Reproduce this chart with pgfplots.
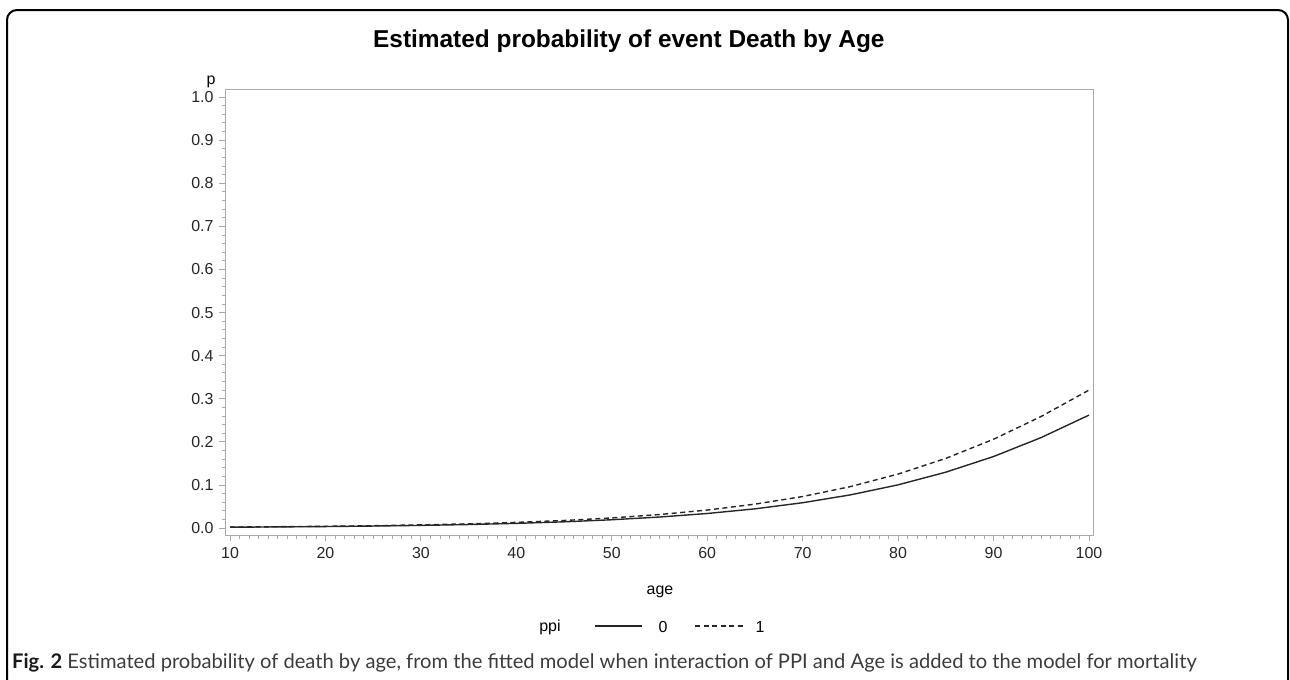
\documentclass[border=0pt]{standalone}
\usepackage{fontspec}
\setmainfont{Liberation Sans}
\newfontfamily\capfont{Lato}
\usepackage{pgfplots}
\pgfplotsset{compat=1.18}

\definecolor{axgray}{RGB}{170,170,170}
\definecolor{captext}{RGB}{60,60,60}

% fitted probabilities, every 5 years
\pgfplotstableread{
age   p
10    0.0019
15    0.0026
20    0.0034
25    0.0046
30    0.0061
35    0.0081
40    0.0108
45    0.0144
50    0.0192
55    0.0255
60    0.0337
65    0.0445
70    0.0587
75    0.0769
80    0.1002
85    0.1296
90    0.1659
95    0.2100
100   0.2620
}\ppizero

\pgfplotstableread{
age   p
10    0.0022
15    0.0030
20    0.0040
25    0.0054
30    0.0073
35    0.0097
40    0.0131
45    0.0175
50    0.0234
55    0.0313
60    0.0417
65    0.0554
70    0.0731
75    0.0961
80    0.1252
85    0.1616
90    0.2060
95    0.2590
100   0.3200
}\ppione

% caption text, sized so that it runs to x = 1197bp
\newcommand\captiontext{\textbf{\color{black!90}Fig. 2} Estimated probability of death by age, from the fitted model when interaction of PPI and Age is added to the model for mortality}
\newlength\capw
\settowidth\capw{\capfont\fontsize{10}{12}\selectfont\captiontext}
\pgfmathsetmacro\capsize{10*1188.9/\capw}

\begin{document}
\begin{tikzpicture}
\useasboundingbox (0,0) rectangle (1290bp,-680bp);
% outer frame
\draw[line width=2bp, rounded corners=10bp] (7bp,-684bp) -- (7bp,-10bp) -- (1288bp,-10bp) -- (1288bp,-684bp);

\node[anchor=base west, inner sep=0pt, font=\fontsize{24.5}{29}\selectfont\bfseries] at (373bp,-47bp) {Estimated probability of event Death by Age};

\begin{axis}[
  at={(225bp,-535bp)}, anchor=south west,
  scale only axis,
  width=868bp, height=446bp,
  xmin=9.476, xmax=100.42,
  ymin=-0.0162, ymax=1.0186,
  axis line style={axgray, line width=1bp},
  tick pos=left, tick align=outside,
  xtick={10,20,...,100},
  ytick={0,0.1,...,1.0},
  minor x tick num=9,
  minor y tick num=4,
  major tick length=6bp, minor tick length=3.5bp,
  every tick/.style={axgray, line width=0.8bp},
  ticklabel style={font=\fontsize{16}{19}\selectfont, text=black!85},
  /pgf/number format/assume math mode=true,
  xticklabel style={yshift=-3bp},
  yticklabel style={xshift=-2bp, /pgf/number format/fixed, /pgf/number format/fixed zerofill, /pgf/number format/precision=1},
  clip=false,
]
\addplot[black!85, line width=1.4bp] table[x=age, y=p] {\ppizero};
\addplot[black!85, line width=1.4bp, dash pattern=on 5bp off 3.5bp] table[x=age, y=p] {\ppione};
\end{axis}

% axis labels
\node[font=\fontsize{16}{19}\selectfont] at (211bp,-82bp) {p};
\node[font=\fontsize{16}{19}\selectfont] at (660bp,-592bp) {age};

% legend
\begin{scope}[font=\fontsize{16}{19}\selectfont]
\node at (550bp,-627bp) {ppi};
\draw[black!85, line width=1.4bp] (595bp,-626bp) -- (642bp,-626bp);
\node at (663bp,-627bp) {0};
\draw[black!85, line width=1.4bp, dash pattern=on 5bp off 3.5bp] (695bp,-626bp) -- (743bp,-626bp);
\node at (760bp,-627bp) {1};
\end{scope}

% caption
\node[anchor=base west, font=\capfont\fontsize{\capsize}{22}\selectfont, text=captext, inner sep=0pt] at (12bp,-668bp)
  {\captiontext};
\end{tikzpicture}
\end{document}
